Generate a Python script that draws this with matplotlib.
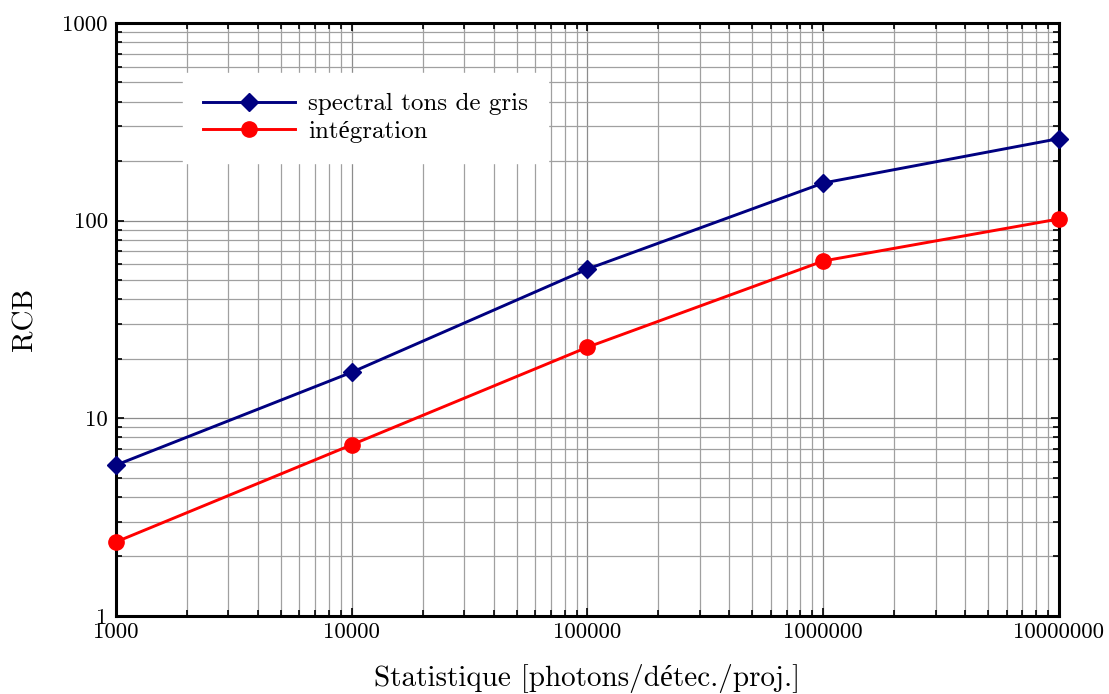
import matplotlib
matplotlib.use('Agg')
import matplotlib.pyplot as plt
from matplotlib.ticker import FixedLocator, FixedFormatter

stats = [1e3, 1e4, 1e5, 1e6, 1e7]
rcb_spectral = [5.8, 17.1, 56.9, 155, 260]
rcb_integration = [2.37, 7.35, 22.9, 62.5, 102]

xtick_labels = ['1000', '10000', '100000', '1000000', '10000000']
ytick_vals = [1, 10, 100, 1000]
ytick_labels = ['1', '10', '100', '1000']

plt.rcParams['font.family'] = ['cmr10', 'Liberation Serif']
plt.rcParams['axes.unicode_minus'] = False

fig = plt.figure(figsize=(11.09, 6.94), dpi=100)
ax = fig.add_axes([0.1046, 0.1124, 0.8503, 0.8545])

ax.plot(stats, rcb_spectral, color='#000080', lw=2.1, marker='D', ms=9,
        label='spectral tons de gris', zorder=3, clip_on=False)
ax.plot(stats, rcb_integration, color='#ff0000', lw=2.1, marker='o', ms=11,
        label='intégration', zorder=3, clip_on=False)

ax.set_xscale('log')
ax.set_yscale('log')
ax.set_xlim(1e3, 1e7)
ax.set_ylim(1, 1000)

ax.xaxis.set_major_locator(FixedLocator(stats))
ax.xaxis.set_major_formatter(FixedFormatter(xtick_labels))
ax.yaxis.set_major_locator(FixedLocator(ytick_vals))
ax.yaxis.set_major_formatter(FixedFormatter(ytick_labels))
ax.xaxis.set_minor_formatter(FixedFormatter([]))
ax.yaxis.set_minor_formatter(FixedFormatter([]))

ax.grid(True, which='major', color='#8c8c8c', lw=0.9)
ax.grid(True, which='minor', color='#a0a0a0', lw=0.9)
ax.set_axisbelow(True)

ax.tick_params(which='both', direction='in', top=True, right=True,
               labelsize=16.5, width=1.2)
ax.tick_params(which='major', length=6)
ax.tick_params(which='minor', length=4)
ax.tick_params(axis='x', pad=5)
ax.tick_params(axis='y', pad=6)
for s in ax.spines.values():
    s.set_linewidth(2.2)

ax.set_xlabel('Statistique [photons/détec./proj.]', fontsize=21, labelpad=15.5)
ax.set_ylabel('RCB', fontsize=21, labelpad=17)

leg = ax.legend(loc='upper left', bbox_to_anchor=(0.071, 0.916),
                borderaxespad=0, fontsize=18, frameon=True, fancybox=False,
                handlelength=3.7, labelspacing=0.2, borderpad=0.8,
                handletextpad=0.5)
leg.get_frame().set_edgecolor('white')
leg.get_frame().set_alpha(1)

fig.savefig('out.png', dpi=100)
